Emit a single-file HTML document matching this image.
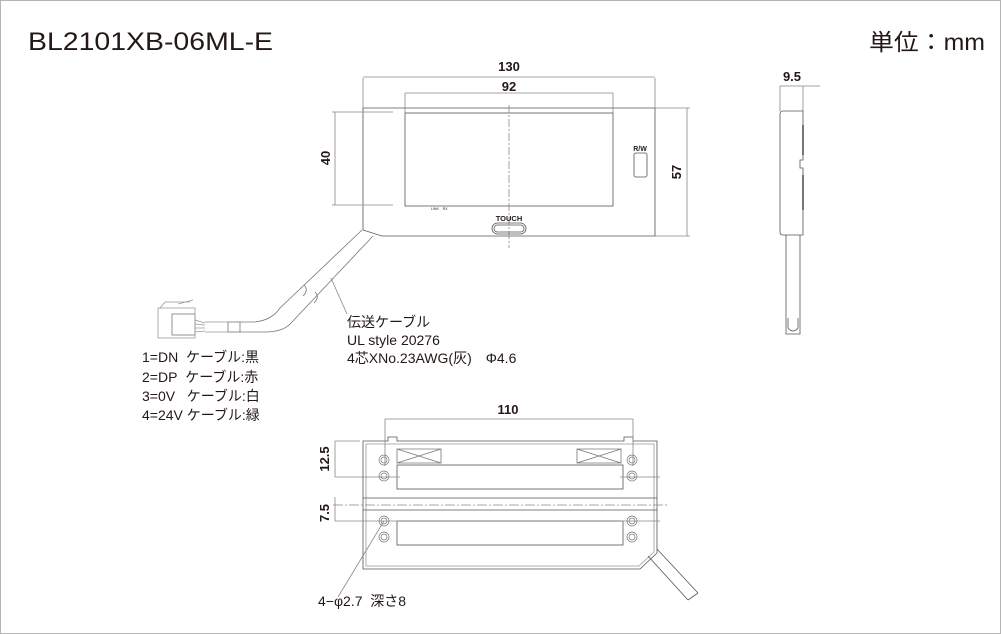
<!DOCTYPE html>
<html><head><meta charset="utf-8"><style>
html,body{margin:0;padding:0;background:#fff;}
svg{display:block;}
text{font-family:"Liberation Sans","Noto Sans CJK JP",sans-serif;fill:#231815;}
</style></head><body>
<svg width="1001" height="634" viewBox="0 0 1001 634" xmlns="http://www.w3.org/2000/svg">
<rect x="0.5" y="0.5" width="1000" height="633" fill="#fff" stroke="#b4b4b4"/>
<text x="28" y="50" font-size="25" textLength="245" lengthAdjust="spacingAndGlyphs">BL2101XB-06ML-E</text>
<text x="869" y="50" font-size="23" textLength="116" lengthAdjust="spacingAndGlyphs">単位：mm</text>

<g fill="none" stroke="#555" stroke-width="0.8">
<!-- front view -->
<path d="M363,108 H655 V236 H382 L363,230 Z"/>
<rect x="405" y="113" width="208" height="93"/>
<path d="M363,78 V108 M655,78 V108 M363,77 H655 M405,93 V113 M613,93 V113 M405,93 H613" stroke="#888"/>
<path d="M332,112 H393 M332,205 H393 M335,112 V205 M655,108 H690 M655,236 H690 M687,108 V236" stroke="#888"/>
<path d="M509,105 V248" stroke="#888" stroke-dasharray="8,2,2,2"/>
<rect x="634" y="153" width="13" height="24" rx="2"/>
<rect x="492" y="223" width="34" height="11" rx="5.5"/>
<rect x="494" y="225" width="30" height="7" rx="3.5"/>
<!-- cable -->
<path d="M362,230 L280,308 Q272,320 255,322 H240 M373,236 L292,322 Q284,332 265,332 H240" stroke="#777"/>
<path d="M303,296 q6,-6 1,-11 M314,303 q6,-6 1,-11" stroke="#777"/>
<rect x="228" y="322" width="12" height="10" stroke="#777"/>
<path d="M205,322 H228 M205,332 H228 M195,320 L205,323 M195,324 L205,325 M195,328 L205,328 M195,332 L205,331" stroke="#999"/>
<rect x="172" y="314" width="23" height="21" stroke="#777"/>
<path d="M158,308 H195 V338 H158 Z M160,308 L165,302 H190 M178,304 L193,300" stroke="#999"/>
<path d="M331,278 L347,314" stroke="#888"/>
<!-- side view -->
<path d="M783,111 H803 V160 H800 V168 H803 V235 H783 Q780,235 780,232 V114 Q780,111 783,111 Z"/>
<path d="M803,125 V155 M803,175 V210" stroke-width="1.6"/>
<path d="M780,86 H820 M780,86 V111 M803,86 V111" stroke="#888"/>
<path d="M786,235 V318 M800,235 V318 M786,318 V334 H800 V318 M788,318 V328 Q793,334 798,328 V318"/>
<!-- bottom view -->
<path d="M363,441 H388 V437 H397 V441 H624 V437 H633 V441 H657 V553 L640,569 H363 Z"/>
<path d="M366,444 H654 V552 L639,566 H366 Z" stroke="#999"/>
<path d="M363,498 H657 M363,510 H657"/>
<path d="M333,505 H669" stroke="#888" stroke-dasharray="10,2,2,2"/>
<rect x="397" y="465" width="226" height="24"/>
<rect x="397" y="521" width="226" height="24"/>
<path d="M397,449 H441 V463 H397 Z M397,449 L441,463 M397,463 L441,449 M577,449 H621 V463 H577 Z M577,449 L621,463 M577,463 L621,449" stroke="#777"/>
<path d="M385,419 H633 M385,419 V466 M633,419 V466" stroke="#888"/>
<path d="M335,441 H360 M335,477 H400 M335,521 H400 M335,441 V477 M335,497 V521 M620,477 H660 M620,521 H660" stroke="#888"/>
<path d="M384,521 L338,597" stroke="#888"/>
<path d="M648,556 L688,600 M657,549 L698,593 M688,600 L698,593" />
</g>
<g fill="none" stroke="#777" stroke-width="0.7">
<circle cx="384" cy="460" r="5"/><circle cx="384" cy="460" r="3"/>
<circle cx="384" cy="476" r="5"/><circle cx="384" cy="476" r="3"/>
<circle cx="632" cy="460" r="5"/><circle cx="632" cy="460" r="3"/>
<circle cx="632" cy="476" r="5"/><circle cx="632" cy="476" r="3"/>
<circle cx="384" cy="521" r="5"/><circle cx="384" cy="521" r="3"/>
<circle cx="384" cy="537" r="5"/><circle cx="384" cy="537" r="3"/>
<circle cx="632" cy="521" r="5"/><circle cx="632" cy="521" r="3"/>
<circle cx="632" cy="537" r="5"/><circle cx="632" cy="537" r="3"/>
</g>

<g font-size="13" text-anchor="middle" font-weight="bold">
<text x="509" y="71">130</text>
<text x="509" y="91">92</text>
<text x="508" y="414">110</text>
<text x="792" y="81">9.5</text>
<text transform="translate(330,158) rotate(-90)">40</text>
<text transform="translate(681,172) rotate(-90)">57</text>
<text transform="translate(329,459) rotate(-90)">12.5</text>
<text transform="translate(329,513) rotate(-90)">7.5</text>
</g>
<text x="640" y="151" font-size="7" text-anchor="middle" font-weight="bold">R/W</text>
<text x="509" y="221" font-size="7.5" text-anchor="middle" font-weight="bold">TOUCH</text>
<text x="431" y="210" font-size="3.5">LINK&#160;&#160;&#160;&#160;RX</text>
<g font-size="14">
<text x="347" y="327">伝送ケーブル</text>
<text x="347" y="345">UL style 20276</text>
<text x="347" y="363">4芯XNo.23AWG(灰)　Φ4.6</text>
<text x="142" y="362">1=DN&#160;&#160;ケーブル:黒</text>
<text x="142" y="382">2=DP&#160;&#160;ケーブル:赤</text>
<text x="142" y="401">3=0V&#160;&#160;&#160;ケーブル:白</text>
<text x="142" y="420">4=24V ケーブル:緑</text>
<text x="318" y="606">4−φ2.7&#160;&#160;深さ8</text>
</g>
</svg>
</body></html>
